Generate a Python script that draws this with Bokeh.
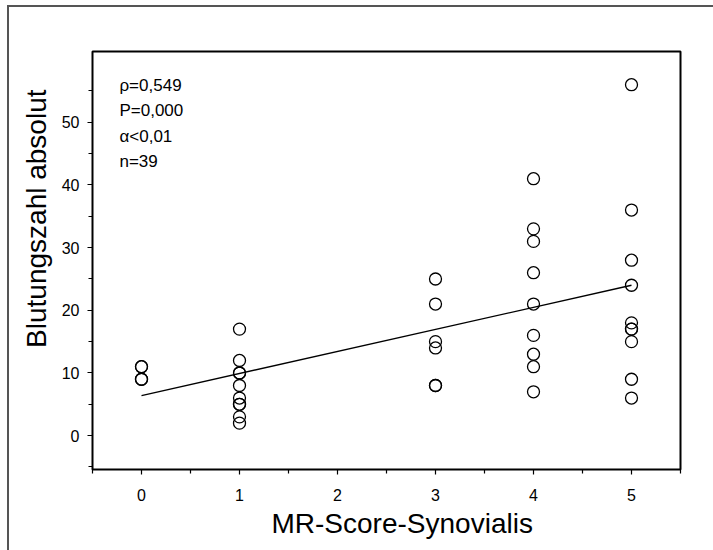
from bokeh.plotting import figure
from bokeh.models import Range1d, FixedTicker, Label, ColumnDataSource, Title
from bokeh.embed import file_html
from bokeh.resources import INLINE

# MR score (x) and bleeding count (y)
score = [0, 0, 0, 0,
         1, 1, 1, 1, 1, 1, 1, 1, 1, 1,
         3, 3, 3, 3, 3, 3,
         4, 4, 4, 4, 4, 4, 4, 4, 4,
         5, 5, 5, 5, 5, 5, 5, 5, 5, 5]
blutung = [11, 9, 11, 9,
           17, 12, 10, 10, 8, 6, 5, 3, 2, 5,
           25, 21, 15, 14, 8, 8,
           41, 33, 31, 26, 21, 16, 13, 11, 7,
           56, 36, 28, 24, 18, 17, 15, 9, 6, 17]
fit_x = [0, 5]
fit_y = [6.4, 24.0]
x_ticks = [0, 1, 2, 3, 4, 5]
x_minor = [-0.5, 0.5, 1.5, 2.5, 3.5, 4.5, 5.5]
y_ticks = [0, 10, 20, 30, 40, 50]
y_minor = [-5, 5, 15, 25, 35, 45, 55]
stats = ["\u03c1=0,549", "P=0,000", "\u03b1<0,01", "n=39"]
stats_y = [55.9, 51.9, 47.7, 43.8]
x_title = "MR-Score-Synovialis"
y_title = "Blutungszahl absolut"

FONT = "Liberation Sans"

p = figure(frame_width=588, frame_height=418,
           min_border_left=83, min_border_top=44, min_border_right=33, min_border_bottom=81,
           x_range=Range1d(-0.5, 5.5), y_range=Range1d(-5.4, 61.3),
           output_backend="svg", toolbar_location=None)
p.styles = {"margin-left": "7px", "margin-top": "5px",
            "border-left": "2px solid #555555", "border-top": "2px solid #555555"}

p.grid.visible = False
p.outline_line_color = "black"
p.outline_line_width = 2
p.background_fill_color = "white"
p.border_fill_color = "white"

for ax in (p.xaxis[0], p.yaxis[0]):
    ax.axis_line_color = None
    ax.major_tick_in = 0
    ax.major_tick_out = 5
    ax.minor_tick_in = 0
    ax.minor_tick_out = 4
    ax.major_tick_line_color = "black"
    ax.minor_tick_line_color = "black"
    ax.major_tick_line_width = 1.2
    ax.minor_tick_line_width = 1.2
    ax.major_label_text_font = FONT
    ax.major_label_text_font_size = "16px"
    ax.major_label_text_color = "black"

p.xaxis[0].ticker = FixedTicker(ticks=x_ticks, minor_ticks=x_minor)
p.yaxis[0].ticker = FixedTicker(ticks=y_ticks, minor_ticks=y_minor)
p.xaxis[0].major_label_standoff = 14
p.yaxis[0].major_label_standoff = 8

p.add_layout(Title(text=x_title, align="left", offset=179, standoff=4,
                   text_font=FONT, text_font_size="28px",
                   text_font_style="normal", text_color="black"), "below")
p.add_layout(Title(text=y_title, align="right", offset=38, standoff=14,
                   text_font=FONT, text_font_size="28px",
                   text_font_style="normal", text_color="black"), "left")

src = ColumnDataSource(dict(x=score, y=blutung))
p.line(fit_x, fit_y, line_color="black", line_width=1.3)
p.scatter("x", "y", source=src, marker="circle", size=12,
          fill_color=None, line_color="black", line_width=1.3)

for t, yy in zip(stats, stats_y):
    p.add_layout(Label(x=-0.225, y=yy, text=t, text_font=FONT,
                       text_font_size="17px", text_baseline="middle",
                       text_color="black"))

open("out.html", "w").write(file_html(p, INLINE))
